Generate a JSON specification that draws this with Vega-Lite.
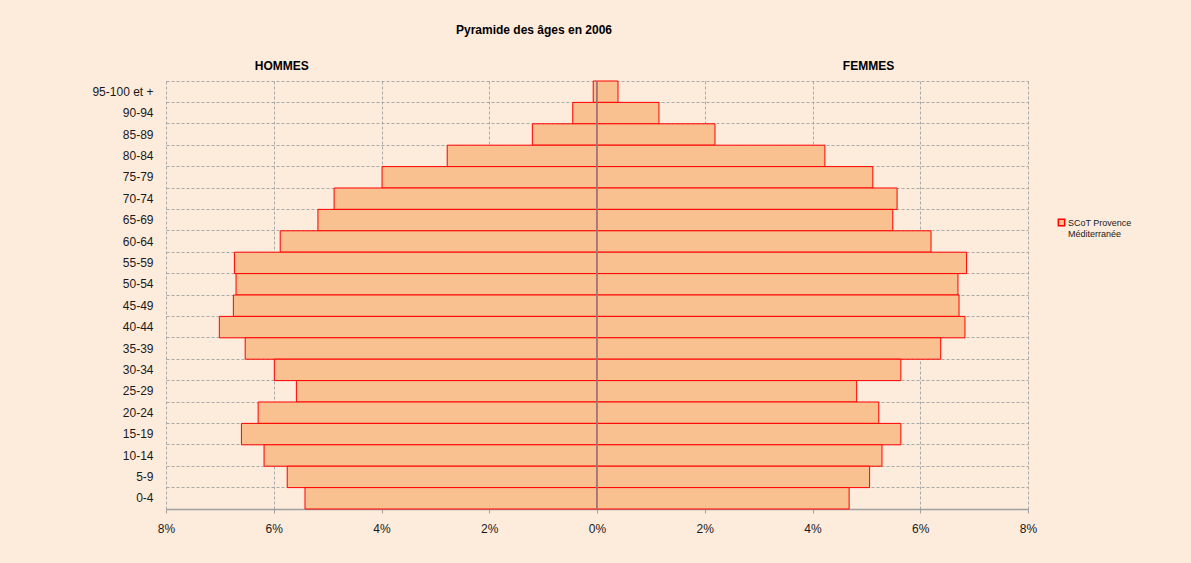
{
  "$schema": "https://vega.github.io/schema/vega-lite/v6.json",
  "autosize": {"type": "none"},
  "width": 862,
  "height": 428,
  "padding": {"left": 166, "top": 81, "right": 163, "bottom": 54},
  "background": "#FDEBDC",
  "title": {
    "text": "Pyramide des âges en 2006",
    "font": "Liberation Sans",
    "fontSize": 12,
    "fontWeight": "bold",
    "color": "#000000",
    "anchor": "middle",
    "dx": -63,
    "offset": 23
  },
  "config": {
    "view": {"stroke": null},
    "font": "Liberation Sans"
  },
  "datasets": {
    "pyr": [
      {"age": "95-100 et +", "sexe": "Hommes", "pct": -0.07, "zone": "SCoT Provence Méditerranée"},
      {"age": "90-94", "sexe": "Hommes", "pct": -0.45, "zone": "SCoT Provence Méditerranée"},
      {"age": "85-89", "sexe": "Hommes", "pct": -1.2, "zone": "SCoT Provence Méditerranée"},
      {"age": "80-84", "sexe": "Hommes", "pct": -2.78, "zone": "SCoT Provence Méditerranée"},
      {"age": "75-79", "sexe": "Hommes", "pct": -3.99, "zone": "SCoT Provence Méditerranée"},
      {"age": "70-74", "sexe": "Hommes", "pct": -4.88, "zone": "SCoT Provence Méditerranée"},
      {"age": "65-69", "sexe": "Hommes", "pct": -5.18, "zone": "SCoT Provence Méditerranée"},
      {"age": "60-64", "sexe": "Hommes", "pct": -5.88, "zone": "SCoT Provence Méditerranée"},
      {"age": "55-59", "sexe": "Hommes", "pct": -6.73, "zone": "SCoT Provence Méditerranée"},
      {"age": "50-54", "sexe": "Hommes", "pct": -6.7, "zone": "SCoT Provence Méditerranée"},
      {"age": "45-49", "sexe": "Hommes", "pct": -6.75, "zone": "SCoT Provence Méditerranée"},
      {"age": "40-44", "sexe": "Hommes", "pct": -7.01, "zone": "SCoT Provence Méditerranée"},
      {"age": "35-39", "sexe": "Hommes", "pct": -6.53, "zone": "SCoT Provence Méditerranée"},
      {"age": "30-34", "sexe": "Hommes", "pct": -5.99, "zone": "SCoT Provence Méditerranée"},
      {"age": "25-29", "sexe": "Hommes", "pct": -5.58, "zone": "SCoT Provence Méditerranée"},
      {"age": "20-24", "sexe": "Hommes", "pct": -6.29, "zone": "SCoT Provence Méditerranée"},
      {"age": "15-19", "sexe": "Hommes", "pct": -6.6, "zone": "SCoT Provence Méditerranée"},
      {"age": "10-14", "sexe": "Hommes", "pct": -6.18, "zone": "SCoT Provence Méditerranée"},
      {"age": "5-9", "sexe": "Hommes", "pct": -5.75, "zone": "SCoT Provence Méditerranée"},
      {"age": "0-4", "sexe": "Hommes", "pct": -5.42, "zone": "SCoT Provence Méditerranée"},
      {"age": "95-100 et +", "sexe": "Femmes", "pct": 0.39, "zone": "SCoT Provence Méditerranée"},
      {"age": "90-94", "sexe": "Femmes", "pct": 1.15, "zone": "SCoT Provence Méditerranée"},
      {"age": "85-89", "sexe": "Femmes", "pct": 2.19, "zone": "SCoT Provence Méditerranée"},
      {"age": "80-84", "sexe": "Femmes", "pct": 4.23, "zone": "SCoT Provence Méditerranée"},
      {"age": "75-79", "sexe": "Femmes", "pct": 5.12, "zone": "SCoT Provence Méditerranée"},
      {"age": "70-74", "sexe": "Femmes", "pct": 5.57, "zone": "SCoT Provence Méditerranée"},
      {"age": "65-69", "sexe": "Femmes", "pct": 5.49, "zone": "SCoT Provence Méditerranée"},
      {"age": "60-64", "sexe": "Femmes", "pct": 6.2, "zone": "SCoT Provence Méditerranée"},
      {"age": "55-59", "sexe": "Femmes", "pct": 6.86, "zone": "SCoT Provence Méditerranée"},
      {"age": "50-54", "sexe": "Femmes", "pct": 6.7, "zone": "SCoT Provence Méditerranée"},
      {"age": "45-49", "sexe": "Femmes", "pct": 6.72, "zone": "SCoT Provence Méditerranée"},
      {"age": "40-44", "sexe": "Femmes", "pct": 6.83, "zone": "SCoT Provence Méditerranée"},
      {"age": "35-39", "sexe": "Femmes", "pct": 6.38, "zone": "SCoT Provence Méditerranée"},
      {"age": "30-34", "sexe": "Femmes", "pct": 5.64, "zone": "SCoT Provence Méditerranée"},
      {"age": "25-29", "sexe": "Femmes", "pct": 4.82, "zone": "SCoT Provence Méditerranée"},
      {"age": "20-24", "sexe": "Femmes", "pct": 5.23, "zone": "SCoT Provence Méditerranée"},
      {"age": "15-19", "sexe": "Femmes", "pct": 5.64, "zone": "SCoT Provence Méditerranée"},
      {"age": "10-14", "sexe": "Femmes", "pct": 5.29, "zone": "SCoT Provence Méditerranée"},
      {"age": "5-9", "sexe": "Femmes", "pct": 5.06, "zone": "SCoT Provence Méditerranée"},
      {"age": "0-4", "sexe": "Femmes", "pct": 4.68, "zone": "SCoT Provence Méditerranée"}
    ]
  },
  "layer": [
    {
      "data": {"name": "pyr"},
      "mark": {"type": "bar", "stroke": "#FF0000", "strokeWidth": 1, "opacity": 1},
      "encoding": {
        "y": {
          "field": "age",
          "type": "nominal",
          "sort": ["95-100 et +", "90-94", "85-89", "80-84", "75-79", "70-74", "65-69", "60-64", "55-59", "50-54", "45-49", "40-44", "35-39", "30-34", "25-29", "20-24", "15-19", "10-14", "5-9", "0-4"],
          "scale": {"paddingInner": 0, "paddingOuter": 0},
          "axis": {
            "title": null,
            "domain": false,
            "ticks": false,
            "bandPosition": 0,
            "grid": true,
            "gridColor": "#A9A9A9",
            "gridDash": [3, 2],
            "gridWidth": 1,
            "labelFontSize": 12,
            "labelColor": "#1A1A1A",
            "labelPadding": 13,
            "labelBound": false
          }
        },
        "x": {
          "field": "pct",
          "type": "quantitative",
          "scale": {"domain": [-8, 8], "nice": false, "zero": false},
          "axis": {
            "title": null,
            "values": [-8, -6, -4, -2, 0, 2, 4, 6, 8],
            "labelExpr": "abs(datum.value) + '%'",
            "labelFlush": false,
            "labelBound": false,
            "grid": true,
            "gridColor": "#A9A9A9",
            "gridDash": [3, 2],
            "gridWidth": 1,
            "domainColor": "#A0A0A0",
            "domainWidth": 1.5,
            "tickColor": "#A0A0A0",
            "tickSize": 4,
            "labelFontSize": 12,
            "labelColor": "#1A1A1A",
            "labelPadding": 10
          }
        },
        "x2": {"datum": 0},
        "fill": {
          "field": "zone",
          "type": "nominal",
          "scale": {"range": ["#F9C18F"]},
          "legend": {
            "title": null,
            "orient": "none",
            "legendX": 891,
            "legendY": 137,
            "symbolType": "square",
            "symbolSize": 40,
            "symbolStrokeColor": "#FF0000",
            "symbolStrokeWidth": 1.5,
            "labelFontSize": 9,
            "labelColor": "#1A1A1A",
            "labelOffset": 2,
            "labelExpr": "['SCoT Provence', 'Méditerranée']"
          }
        }
      }
    },
    {
      "data": {"values": [{}]},
      "mark": {"type": "rule", "color": "#8C8C8C", "strokeWidth": 1.5},
      "encoding": {"x": {"datum": 0}}
    },
    {
      "data": {"values": [{}]},
      "mark": {"type": "text", "text": "HOMMES", "fontWeight": "bold", "fontSize": 12, "color": "#000000", "dy": -26},
      "encoding": {"x": {"datum": -5.85}, "y": {"datum": "95-100 et +"}}
    },
    {
      "data": {"values": [{}]},
      "mark": {"type": "text", "text": "FEMMES", "fontWeight": "bold", "fontSize": 12, "color": "#000000", "dy": -26},
      "encoding": {"x": {"datum": 5.04}, "y": {"datum": "95-100 et +"}}
    }
  ]
}
